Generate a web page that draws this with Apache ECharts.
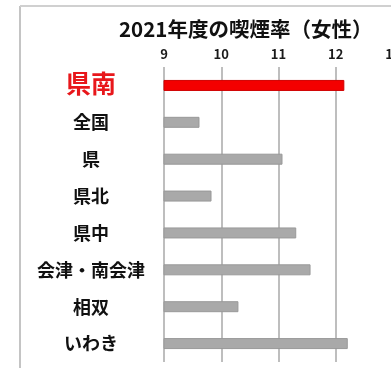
<!DOCTYPE html>
<html>
<head>
<meta charset="utf-8">
<script src="https://cdn.jsdelivr.net/npm/echarts@6/dist/echarts.min.js"></script>
<style>
html,body{margin:0;padding:0;background:#fff;overflow:hidden;width:391px;height:368px;}
#c{width:420px;height:368px;}
</style>
</head>
<body>
<div id="c"></div>
<script>
const categories = ['県南', '全国', '県', '県北', '県中', '会津・南会津', '相双', 'いわき'];
const values = [12.15, 9.62, 11.07, 9.83, 11.31, 11.56, 10.3, 12.21];
const highlight = '県南';
const titleText = '2021年度の喫煙率（女性）';

const FONT = '"Noto Sans CJK JP", "Noto Sans", sans-serif';
const chart = echarts.init(document.getElementById('c'), null, {renderer: 'canvas'});
chart.setOption({
  animation: false,
  backgroundColor: '#fff',
  title: {
    text: titleText,
    left: 114, top: 14,
    textStyle: {fontFamily: FONT, fontSize: 20.5, fontWeight: 'bold', color: '#111'}
  },
  grid: {left: 164, right: 27, top: 67, bottom: 6, containLabel: false},
  xAxis: {
    type: 'value', position: 'top', min: 9, max: 13, interval: 1,
    axisLine: {show: false}, axisTick: {show: false},
    axisLabel: {margin: 6, fontFamily: FONT, fontSize: 13, fontWeight: 'bold', color: '#1a1a1a'},
    splitLine: {show: true, lineStyle: {color: '#a8a8a8', width: 1.5}}
  },
  yAxis: {
    type: 'category', inverse: true, data: categories,
    axisLine: {show: false}, axisTick: {show: false},
    axisLabel: {
      align: 'center', margin: 73, fontFamily: FONT,
      formatter: v => v === highlight ? '{h|' + v + '}' : '{n|' + v + '}',
      rich: {
        h: {fontSize: 25, fontWeight: 'bold', color: '#e8171b', fontFamily: FONT, padding: [0, 0, 4, 0]},
        n: {fontSize: 18, fontWeight: 'bold', color: '#111', fontFamily: FONT}
      }
    }
  },
  series: [{
    type: 'bar', barWidth: 11,
    data: values.map((v, i) => ({
      value: v,
      itemStyle: categories[i] === highlight
        ? {color: '#f40000', borderColor: '#d00000', borderWidth: 1}
        : {color: '#a9a9a9', borderColor: '#999', borderWidth: 1}
    }))
  }],
  graphic: [
    {type: 'line', shape: {x1: 20, y1: 6, x2: 20, y2: 368}, style: {stroke: '#c4c4c4', lineWidth: 2}},
    {type: 'line', shape: {x1: 20, y1: 6, x2: 420, y2: 6}, style: {stroke: '#d0d0d0', lineWidth: 2}}
  ]
});
</script>
</body>
</html>
